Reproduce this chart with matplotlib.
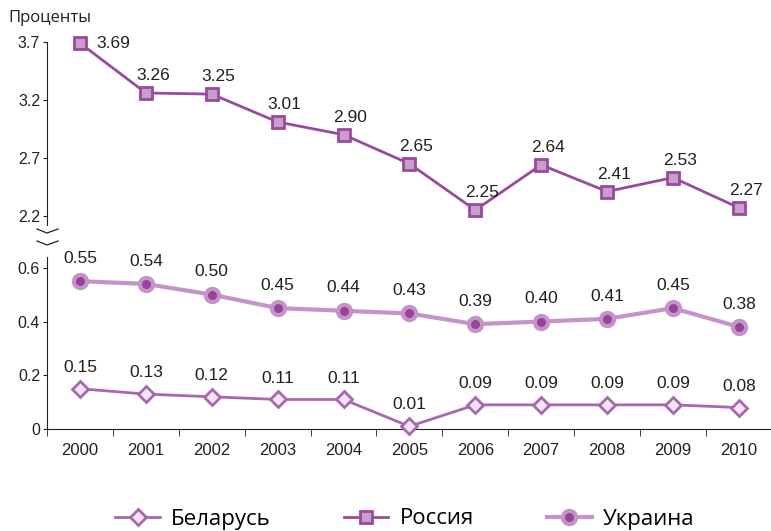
import numpy as np
import matplotlib
matplotlib.use('Agg')
import matplotlib.pyplot as plt
from matplotlib.lines import Line2D

years = ['2000', '2001', '2002', '2003', '2004', '2005', '2006', '2007', '2008', '2009', '2010']
russia = [3.69, 3.26, 3.25, 3.01, 2.90, 2.65, 2.25, 2.64, 2.41, 2.53, 2.27]
ukraine = [0.55, 0.54, 0.50, 0.45, 0.44, 0.43, 0.39, 0.40, 0.41, 0.45, 0.38]
belarus = [0.15, 0.13, 0.12, 0.11, 0.11, 0.01, 0.09, 0.09, 0.09, 0.09, 0.08]

plt.rcParams['font.family'] = ['Liberation Sans', 'DejaVu Sans']

c_rus = '#9a4a9e'
c_rus_face = '#c79fca'
c_ukr = '#c494c8'
c_ukr_dot = '#98429a'
c_bel = '#a868b0'
c_text = '#231f20'

fig = plt.figure(figsize=(7.71, 5.31), dpi=100)
ax_top = fig.add_axes([0.061, 0.576, 0.94, 0.345])
ax_bot = fig.add_axes([0.061, 0.192, 0.94, 0.324])

x = np.arange(len(years))

ax_top.plot(x, russia, color=c_rus, lw=2, marker='s', ms=9, mfc=c_rus_face,
            mec=c_rus, mew=2, clip_on=False, zorder=3)
ax_bot.plot(x, ukraine, color=c_ukr, lw=3, marker='o', ms=9.5, mfc=c_ukr_dot,
            mec=c_ukr, mew=3, clip_on=False, zorder=3)
ax_bot.plot(x, belarus, color=c_bel, lw=2, marker='D', ms=8, mfc='#f1e6f2',
            mec=c_bel, mew=2, clip_on=False, zorder=3)

for i, v in enumerate(russia):
    if i == 0:
        ax_top.annotate(f'{v:.2f}', (i, v), xytext=(12, 0), textcoords='offset points',
                        ha='left', va='center', fontsize=12.5, color=c_text)
    else:
        ax_top.annotate(f'{v:.2f}', (i, v), xytext=(5, 7), textcoords='offset points',
                        ha='center', va='bottom', fontsize=12.5, color=c_text)
for i, v in enumerate(ukraine):
    ax_bot.annotate(f'{v:.2f}', (i, v), xytext=(0, 11), textcoords='offset points',
                    ha='center', va='bottom', fontsize=12.5, color=c_text)
for i, v in enumerate(belarus):
    ax_bot.annotate(f'{v:.2f}', (i, v), xytext=(0, 10), textcoords='offset points',
                    ha='center', va='bottom', fontsize=12.5, color=c_text)

for ax in (ax_top, ax_bot):
    ax.set_xlim(-0.5, 10.5)
    for s in ('top', 'right'):
        ax.spines[s].set_visible(False)
    ax.spines['left'].set_color(c_text)
    ax.tick_params(axis='y', direction='out', length=3, labelsize=11.5, colors=c_text, pad=2)
    ax.patch.set_alpha(0)

ax_top.set_ylim(2.12, 3.7)
ax_top.set_yticks([2.2, 2.7, 3.2, 3.7])
ax_top.set_yticklabels(['2.2', '2.7', '3.2', '3.7'])
ax_top.spines['bottom'].set_visible(False)
ax_top.set_xticks([])

ax_bot.set_ylim(0, 0.64)
ax_bot.set_yticks([0, 0.2, 0.4, 0.6])
ax_bot.set_yticklabels(['0', '0.2', '0.4', '0.6'])
ax_bot.spines['bottom'].set_color(c_text)
ax_bot.set_xticks(x)
ax_bot.set_xticklabels(years)
ax_bot.set_xticks(np.arange(-0.5, 11, 1), minor=True)
ax_bot.tick_params(axis='x', which='major', length=0, labelsize=12, colors=c_text, pad=10)
ax_bot.tick_params(axis='x', which='minor', length=5, direction='out', colors=c_text)

# break marks
for yc in (233, 245):
    yf = 1 - yc / 531
    fig.add_artist(Line2D([37 / 771, 47 / 771, 58 / 771],
                          [yf + 4 / 531, yf, yf + 4 / 531], color=c_text, lw=0.9))

fig.text(8 / 771, 1 - 18 / 531, 'Проценты', fontsize=12, color=c_text,
         family=['Open Sans', 'DejaVu Sans'], va='center', ha='left')

handles = [
    Line2D([], [], color=c_bel, lw=2, marker='D', ms=8, mfc='#f1e6f2', mec=c_bel, mew=2),
    Line2D([], [], color=c_rus, lw=2, marker='s', ms=9, mfc=c_rus_face, mec=c_rus, mew=2),
    Line2D([], [], color=c_ukr, lw=3, marker='o', ms=9.5, mfc=c_ukr_dot, mec=c_ukr, mew=3),
]
fig.legend(handles, ['Беларусь', 'Россия', 'Украина'], loc='center',
           bbox_to_anchor=(0.525, 1 - 519 / 531), ncol=3, frameon=False,
           prop={'family': ['Open Sans', 'DejaVu Sans'], 'size': 16},
           handlelength=2.0, columnspacing=3.3, handletextpad=0.5)

fig.savefig('out.png', dpi=100)
